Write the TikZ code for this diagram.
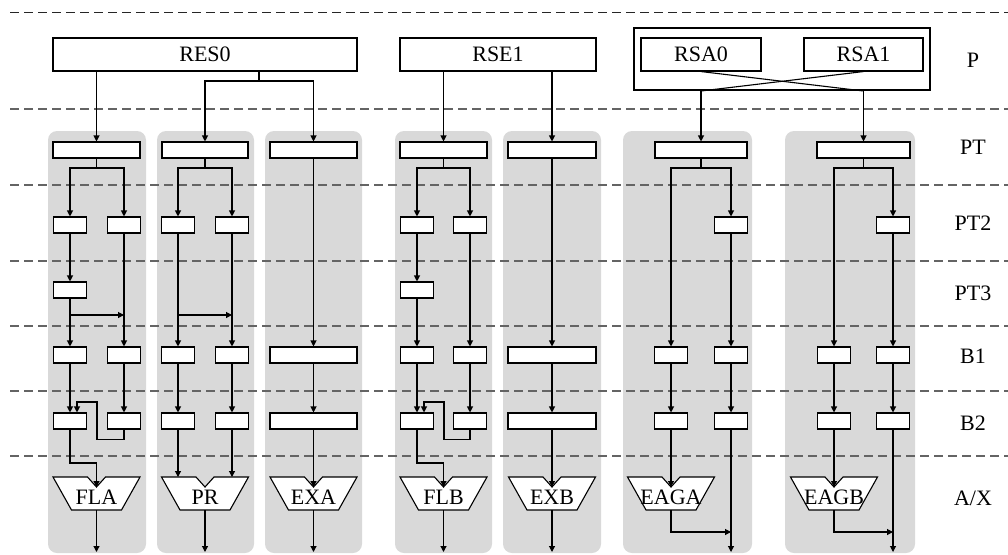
\documentclass[tikz,border=0pt]{standalone}
\usepackage{fontspec}
\setmainfont{Liberation Serif}
\usetikzlibrary{arrows.meta}
\definecolor{colgray}{RGB}{217,217,217}
\definecolor{sepgray}{RGB}{100,100,100}
\newcommand\myalu[3]{%
  \coordinate (#1-n) at (#2,487);
  \coordinate (#1-top) at (#2,477);
  \coordinate (#1-s) at (#2,510);
  \draw[alushape] ({#2-43.5},477) -- ({#2-9},477) -- (#1-n) -- ({#2+9},477) -- ({#2+43.5},477) -- ({#2+25},510) -- ({#2-25},510) -- cycle;
  \node[inner sep=0pt] (#1) at (#2,497.5) {#3};}
\begin{document}
\begin{tikzpicture}[x=1pt,y=-1pt,
  font=\fontsize{22}{26}\selectfont,
  colbox/.style={fill=colgray, rounded corners=9pt},
  sepline/.style={dash pattern=on 9pt off 5pt, line width=1.3pt, draw=sepgray},
  box/.style={draw, fill=white, line width=1.1pt, inner sep=0pt, minimum height=16pt},
  small/.style={box, minimum width=33pt},
  big/.style={box, minimum height=33pt},
  ln/.style={line width=1.1pt},
  arr/.style={ln, -{Triangle[length=6pt,width=6pt]}},
  alushape/.style={draw, fill=white, line width=1.1pt},
  lab/.style={inner sep=0pt}]
\useasboundingbox (0,0) rectangle (1008,554);
% columns
\fill[colbox] (48,131) rectangle (146,553);
\fill[colbox] (157,131) rectangle (254,553);
\fill[colbox] (265,131) rectangle (362,553);
\fill[colbox] (395,131) rectangle (492,553);
\fill[colbox] (503,131) rectangle (601,553);
\fill[colbox] (623,131) rectangle (752,553);
\fill[colbox] (785,131) rectangle (915,553);
% separators
\draw[sepline, draw=black!85, line width=0.9pt] (10,12) -- (1008,12);
\foreach \yy in {109,185,261,326,391,456} \draw[sepline] (10,\yy) -- (1008,\yy);
% top
\node[big, minimum width=304pt] (res0) at (205,54.5) {RES0};
\node[big, minimum width=196pt] (rse1) at (498,54.5) {RSE1};
\node[draw, line width=2pt, minimum width=296pt, minimum height=62pt, inner sep=0pt] (rsa) at (782,59) {};
\node[big, minimum width=120pt] (rsa0) at (701,54.5) {RSA0};
\node[big, minimum width=119pt] (rsa1) at (863.5,54.5) {RSA1};
% PT row
\node[box, minimum width=87pt] (t1) at (96.5,150) {};
\node[box, minimum width=86pt] (t2) at (205,150) {};
\node[box, minimum width=87pt] (t3) at (313.5,150) {};
\node[box, minimum width=87pt] (t4) at (443.5,150) {};
\node[box, minimum width=88pt] (t5) at (552,150) {};
\node[box, minimum width=92pt] (t6) at (701,150) {};
\node[box, minimum width=93pt] (t7) at (863.5,150) {};
% column 1
\node[small] (p1l) at (70,225) {};
\node[small] (p1r) at (124,225) {};
\node[small] (q1) at (70,290) {};
\node[small] (b1l) at (70,355) {};
\node[small] (b1r) at (124,355) {};
\node[small] (d1l) at (70,421) {};
\node[small] (d1r) at (124,421) {};
\myalu{alu1}{96.5}{FLA}
% column 2
\node[small] (p2l) at (178,225) {};
\node[small] (p2r) at (232,225) {};
\node[small] (b2l) at (178,355) {};
\node[small] (b2r) at (232,355) {};
\node[small] (d2l) at (178,421) {};
\node[small] (d2r) at (232,421) {};
\myalu{alu2}{205}{PR}
% column 3
\node[box, minimum width=87pt] (b3) at (313.5,355) {};
\node[box, minimum width=87pt] (d3) at (313.5,421) {};
\myalu{alu3}{313.5}{EXA}
% column 4
\node[small] (p4l) at (417,225) {};
\node[small] (p4r) at (470,225) {};
\node[small] (q4) at (417,290) {};
\node[small] (b4l) at (417,355) {};
\node[small] (b4r) at (470,355) {};
\node[small] (d4l) at (417,421) {};
\node[small] (d4r) at (470,421) {};
\myalu{alu4}{443.5}{FLB}
% column 5
\node[box, minimum width=88pt] (b5) at (552,355) {};
\node[box, minimum width=88pt] (d5) at (552,421) {};
\myalu{alu5}{552}{EXB}
% column 6
\node[small] (p6r) at (731,225) {};
\node[small] (b6l) at (671,355) {};
\node[small] (b6r) at (731,355) {};
\node[small] (d6l) at (671,421) {};
\node[small] (d6r) at (731,421) {};
\myalu{alu6}{671}{EAGA}
% column 7
\node[small] (p7r) at (893,225) {};
\node[small] (b7l) at (834,355) {};
\node[small] (b7r) at (893,355) {};
\node[small] (d7l) at (834,421) {};
\node[small] (d7r) at (893,421) {};
\myalu{alu7}{834}{EAGB}
% coordinates
\coordinate (j1) at (259,81);
\coordinate (s1) at (96.5,168);
\coordinate (s2) at (205,168);
\coordinate (s4) at (443.5,168);
\coordinate (s6) at (701,168);
\coordinate (s7) at (863.5,168);
\coordinate (e1) at (96.5,552);
\coordinate (e2) at (205,552);
\coordinate (e3) at (313.5,552);
\coordinate (e4) at (443.5,552);
\coordinate (e5) at (552,552);
\coordinate (e6) at (731,552);
\coordinate (e7) at (893,552);
% top connectors
\draw[arr] (res0.south -| t1) -- (t1.north);
\draw[ln] (res0.south -| j1) -- (j1);
\draw[arr] (j1) -| (t2.north);
\draw[arr] (j1) -| (t3.north);
\draw[arr] (rse1.south -| t4) -- (t4.north);
\draw[arr] (rse1.south -| t5) -- (t5.north);
\draw[ln] (rsa0.south) -- (rsa1.south |- rsa.south);
\draw[ln] (rsa1.south) -- (rsa0.south |- rsa.south);
\draw[arr] (rsa0.south |- rsa.south) -- (t6.north);
\draw[arr] (rsa1.south |- rsa.south) -- (t7.north);
% column 1 connectors
\draw[ln] (t1.south) -- (s1);
\draw[arr] (s1) -| (p1l.north);
\draw[arr] (s1) -| (p1r.north);
\draw[arr] (p1l.south) -- (q1.north);
\draw[arr] (q1.south) -- (b1l.north);
\draw[arr] (q1.south |- 0,315) -- (p1r.south |- 0,315);
\draw[arr] (p1r.south) -- (b1r.north);
\draw[arr] (b1l.south) -- (d1l.north);
\draw[arr] (b1r.south) -- (d1r.north);
\draw[arr] (d1r.south) -- ++(0,10) -| (97,402) -| ([xshift=7pt]d1l.north);
\draw[arr] (d1l.south) -- (70,463) -| (alu1-n);
\draw[arr] (alu1-s) -- (e1);
% column 2 connectors
\draw[ln] (t2.south) -- (s2);
\draw[arr] (s2) -| (p2l.north);
\draw[arr] (s2) -| (p2r.north);
\draw[arr] (p2l.south) -- (b2l.north);
\draw[arr] (p2l.south |- 0,315) -- (p2r.south |- 0,315);
\draw[arr] (p2r.south) -- (b2r.north);
\draw[arr] (b2l.south) -- (d2l.north);
\draw[arr] (b2r.south) -- (d2r.north);
\draw[arr] (d2l.south) -- (d2l.south |- alu2-top);
\draw[arr] (d2r.south) -- (d2r.south |- alu2-top);
\draw[arr] (alu2-s) -- (e2);
% column 3 connectors
\draw[arr] (t3.south) -- (b3.north);
\draw[arr] (b3.south) -- (d3.north);
\draw[arr] (d3.south) -- (alu3-n);
\draw[arr] (alu3-s) -- (e3);
% column 4 connectors
\draw[ln] (t4.south) -- (s4);
\draw[arr] (s4) -| (p4l.north);
\draw[arr] (s4) -| (p4r.north);
\draw[arr] (p4l.south) -- (q4.north);
\draw[arr] (q4.south) -- (b4l.north);
\draw[arr] (p4r.south) -- (b4r.north);
\draw[arr] (b4l.south) -- (d4l.north);
\draw[arr] (b4r.south) -- (d4r.north);
\draw[arr] (d4r.south) -- ++(0,10) -| (444,402) -| ([xshift=7pt]d4l.north);
\draw[arr] (d4l.south) -- (417,463) -| (alu4-n);
\draw[arr] (alu4-s) -- (e4);
% column 5 connectors
\draw[arr] (t5.south) -- (b5.north);
\draw[arr] (b5.south) -- (d5.north);
\draw[arr] (d5.south) -- (alu5-n);
\draw[arr] (alu5-s) -- (e5);
% column 6 connectors
\draw[ln] (t6.south) -- (s6);
\draw[arr] (s6) -| (b6l.north);
\draw[arr] (s6) -| (p6r.north);
\draw[arr] (p6r.south) -- (b6r.north);
\draw[arr] (b6l.south) -- (d6l.north);
\draw[arr] (b6r.south) -- (d6r.north);
\draw[arr] (d6l.south) -- (alu6-n);
\draw[arr] (d6r.south) -- (e6);
\draw[arr] (alu6-s) |- (731,532);
% column 7 connectors
\draw[ln] (t7.south) -- (s7);
\draw[arr] (s7) -| (b7l.north);
\draw[arr] (s7) -| (p7r.north);
\draw[arr] (p7r.south) -- (b7r.north);
\draw[arr] (b7l.south) -- (d7l.north);
\draw[arr] (b7r.south) -- (d7r.north);
\draw[arr] (d7l.south) -- (alu7-n);
\draw[arr] (d7r.south) -- (e7);
\draw[arr] (alu7-s) |- (893,532);
% redraw ALU labels on top
% row labels
\node[lab] (lP) at (973,60) {P};
\node[lab] (lPT) at (973,147) {PT};
\node[lab] (lPT2) at (973,223) {PT2};
\node[lab] (lPT3) at (973,293) {PT3};
\node[lab] (lB1) at (973,356) {B1};
\node[lab] (lB2) at (973,423) {B2};
\node[lab] (lAX) at (973,498) {A/X};
\end{tikzpicture}
\end{document}
